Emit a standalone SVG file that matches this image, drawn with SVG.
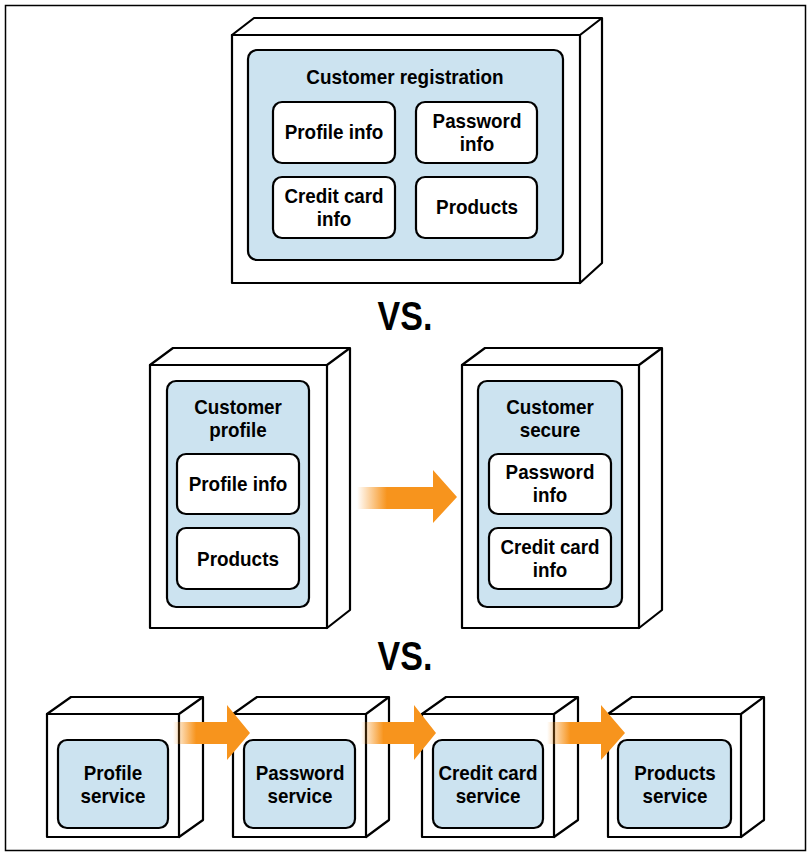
<svg xmlns="http://www.w3.org/2000/svg" width="811" height="856" viewBox="0 0 811 856">
<defs>
<linearGradient id="fade" x1="0" y1="0" x2="1" y2="0">
<stop offset="0" stop-color="#F7941D" stop-opacity="0"/>
<stop offset="0.3" stop-color="#F7941D" stop-opacity="1"/>
<stop offset="1" stop-color="#F7941D"/>
</linearGradient>
<style>
.cube{fill:#fff;stroke:#000;stroke-width:2.2;stroke-linejoin:round}
.blue{fill:#CCE3F0;stroke:#000;stroke-width:2.2}
.item{fill:#fff;stroke:#000;stroke-width:2.2}
text{font-family:"Liberation Sans",Arial,sans-serif;font-weight:bold;fill:#000;text-anchor:middle;transform-box:fill-box;transform-origin:center}
.t{font-size:21px;transform:scaleX(0.9)}
.m{font-size:20px;transform:scaleX(0.94)}
.vs{font-size:40px;transform:scaleX(0.85)}
.arrow{fill:url(#fade)}
</style>
</defs>
<rect x="5.5" y="5.5" width="800" height="845" fill="#fff" stroke="#000" stroke-width="1.5"/>

<g id="customer-registration">
<path class="cube" d="M232 35 L254 18 L602 18 L602 263 L580 283 Z"/>
<path class="cube" d="M580 35 L602 18 M232 35 L580 35 L580 283 L232 283 Z"/>
<rect class="blue" x="248" y="50" width="315" height="210" rx="9"/>
<text class="t" x="405" y="84">Customer registration</text>
<g id="profile-info-1"><rect class="item" x="273" y="102" width="122" height="61" rx="9"/><text class="t" x="334" y="139">Profile info</text></g>
<g id="password-info-1"><rect class="item" x="416" y="102" width="121" height="61" rx="9"/><text class="m" x="477" y="128">Password</text><text class="m" x="477" y="151">info</text></g>
<g id="credit-card-info-1"><rect class="item" x="273" y="177" width="122" height="61" rx="9"/><text class="m" x="334" y="203">Credit card</text><text class="m" x="334" y="226">info</text></g>
<g id="products-1"><rect class="item" x="416" y="177" width="121" height="61" rx="9"/><text class="t" x="477" y="214">Products</text></g>
</g>

<text id="vs-1" class="vs" x="405" y="330">VS.</text>

<g id="customer-profile">
<path class="cube" d="M150 365 L173 348 L350 348 L350 610 L327 628 Z"/>
<path class="cube" d="M327 365 L350 348 M150 365 L327 365 L327 628 L150 628 Z"/>
<rect class="blue" x="167" y="381" width="142" height="226" rx="9"/>
<text class="m" x="238" y="414">Customer</text><text class="m" x="238" y="437">profile</text>
<g id="profile-info-2"><rect class="item" x="177" y="454" width="122" height="60" rx="9"/><text class="t" x="238" y="491">Profile info</text></g>
<g id="products-2"><rect class="item" x="177" y="528" width="122" height="61" rx="9"/><text class="t" x="238" y="566">Products</text></g>
</g>

<g id="customer-secure">
<path class="cube" d="M462 365 L485 348 L662 348 L662 610 L639 628 Z"/>
<path class="cube" d="M639 365 L662 348 M462 365 L639 365 L639 628 L462 628 Z"/>
<rect class="blue" x="478" y="381" width="144" height="226" rx="9"/>
<text class="m" x="550" y="414">Customer</text><text class="m" x="550" y="437">secure</text>
<g id="password-info-2"><rect class="item" x="489" y="454" width="122" height="60" rx="9"/><text class="m" x="550" y="479">Password</text><text class="m" x="550" y="502">info</text></g>
<g id="credit-card-info-2"><rect class="item" x="489" y="528" width="122" height="61" rx="9"/><text class="m" x="550" y="554">Credit card</text><text class="m" x="550" y="577">info</text></g>
</g>

<text id="vs-2" class="vs" x="405" y="670">VS.</text>

<g id="profile-service">
<path class="cube" d="M47 714 L71 697 L203 697 L203 820 L179 837 Z"/>
<path class="cube" d="M179 714 L203 697 M47 714 L179 714 L179 837 L47 837 Z"/>
<rect class="blue" x="58" y="740" width="110" height="88" rx="9"/>
<text class="m" x="113" y="780">Profile</text><text class="m" x="113" y="803">service</text>
</g>
<g id="password-service">
<path class="cube" d="M233 714 L257 697 L389 697 L389 820 L366 837 Z"/>
<path class="cube" d="M366 714 L389 697 M233 714 L366 714 L366 837 L233 837 Z"/>
<rect class="blue" x="244" y="740" width="111" height="88" rx="9"/>
<text class="m" x="300" y="780">Password</text><text class="m" x="300" y="803">service</text>
</g>
<g id="credit-card-service">
<path class="cube" d="M422 714 L446 697 L578 697 L578 820 L554 837 Z"/>
<path class="cube" d="M554 714 L578 697 M422 714 L554 714 L554 837 L422 837 Z"/>
<rect class="blue" x="433" y="740" width="110" height="88" rx="9"/>
<text class="m" x="488" y="780">Credit card</text><text class="m" x="488" y="803">service</text>
</g>
<g id="products-service">
<path class="cube" d="M608 714 L632 697 L764 697 L764 820 L741 837 Z"/>
<path class="cube" d="M741 714 L764 697 M608 714 L741 714 L741 837 L608 837 Z"/>
<rect class="blue" x="618" y="740" width="113" height="88" rx="9"/>
<text class="m" x="675" y="780">Products</text><text class="m" x="675" y="803">service</text>
</g>

<g id="connectors">
<path class="arrow" d="M357 487 L433 487 L433 470 L457 497 L433 523 L433 509 L357 509 Z"/>
<path class="arrow" d="M173 722 L227 722 L227 705 L250 733 L227 760 L227 744 L173 744 Z"/>
<path class="arrow" d="M361 722 L414 722 L414 705 L436 733 L414 760 L414 744 L361 744 Z"/>
<path class="arrow" d="M547 722 L601 722 L601 705 L625 733 L601 760 L601 744 L547 744 Z"/>
</g>
</svg>
